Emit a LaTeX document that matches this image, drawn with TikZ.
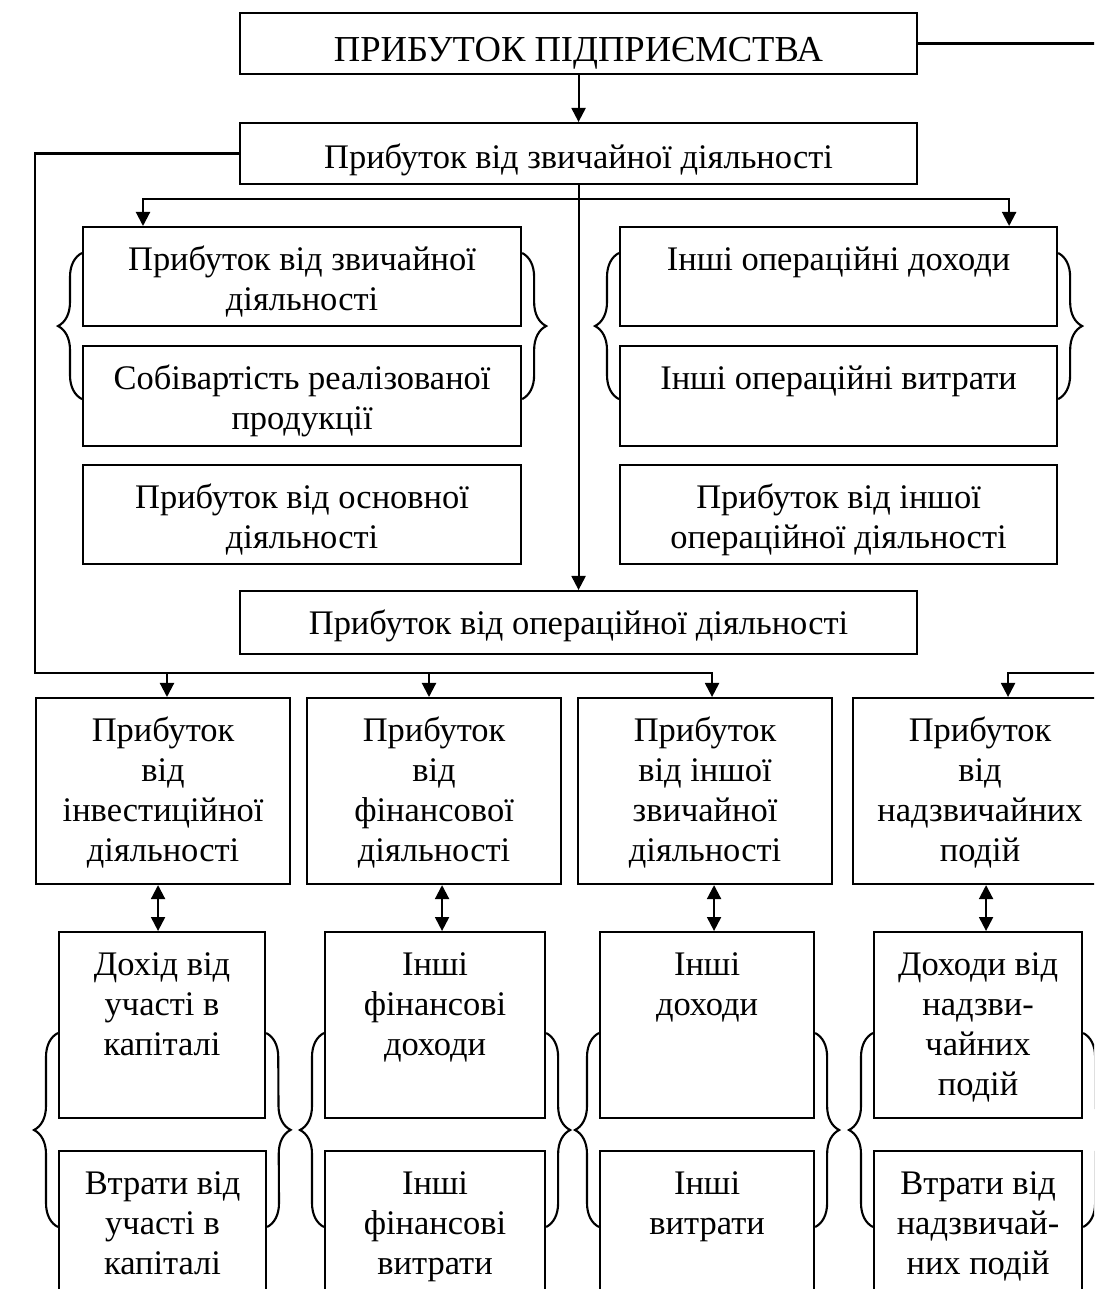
\documentclass[tikz,border=0pt]{standalone}
\usepackage{fontspec}
\setmainfont{Liberation Serif}
\usetikzlibrary{arrows.meta,calc,decorations.pathreplacing}
\newdimen\pxu \pxu=0.01cm
\newcommand{\boxtxt}[4][43]{\parbox[c][#3\pxu][t]{#2\pxu}{\centering\rule{0pt}{#1\pxu}#4}}

\begin{document}
\begin{tikzpicture}[x=0.01cm,y=-0.01cm,>={Triangle[length=1.4mm,width=1.4mm]},
                    line width=0.6pt,
                    main box/.style={draw,inner sep=0pt,anchor=north west,font=\fontsize{9.8}{11.4}\selectfont},
                    curly/.style={decorate,decoration={brace,amplitude=2.4mm}}]
  \useasboundingbox (0,0) rectangle (1094,1289);
  \clip (0,0) rectangle (1094,1289);
  \node[main box,font=\fontsize{10.4}{12}\selectfont] (1) at (239,12) {\boxtxt[48]{677}{61}{ПРИБУТОК ПІДПРИЄМСТВА}};
  \node[main box] (2) at (239,122) {\boxtxt[45]{677}{61}{Прибуток від звичайної діяльності}};
  \node[main box] (3) at (82,226) {\boxtxt{438}{99}{Прибуток від звичайної\\діяльності}};
  \node[main box] (4) at (82,345) {\boxtxt{438}{100}{Собівартість реалізованої\\продукції}};
  \node[main box] (5) at (82,464) {\boxtxt{438}{99}{Прибуток від основної\\діяльності}};
  \node[main box] (6) at (619,226) {\boxtxt{437}{99}{Інші операційні доходи}};
  \node[main box] (7) at (619,345) {\boxtxt{437}{100}{Інші операційні витрати}};
  \node[main box] (8) at (619,464) {\boxtxt{437}{99}{Прибуток від іншої\\операційної діяльності}};
  \node[main box] (9) at (239,590) {\boxtxt{677}{63}{Прибуток від операційної діяльності}};
  \node[main box] (10) at (35,697) {\boxtxt{254}{186}{Прибуток\\від\\інвестиційної\\діяльності}};
  \node[main box] (11) at (306,697) {\boxtxt{254}{186}{Прибуток\\від\\фінансової\\діяльності}};
  \node[main box] (12) at (577,697) {\boxtxt{254}{186}{Прибуток\\від іншої\\звичайної\\діяльності}};
  \node[main box] (13) at (852,697) {\boxtxt{254}{186}{Прибуток\\від\\надзвичайних\\подій}};
  \node[main box] (14) at (58,931) {\boxtxt{206}{186}{Дохід від\\участі в\\капіталі}};
  \node[main box] (15) at (324,931) {\boxtxt{220}{186}{Інші\\фінансові\\доходи}};
  \node[main box] (16) at (599,931) {\boxtxt{214}{186}{Інші\\доходи}};
  \node[main box] (17) at (873,931) {\boxtxt{208}{186}{Доходи від\\надзви-\\чайних\\подій}};
  \node[main box] (18) at (58,1150) {\boxtxt{207}{186}{Втрати від\\участі в\\капіталі}};
  \node[main box] (19) at (324,1150) {\boxtxt{220}{186}{Інші\\фінансові\\витрати}};
  \node[main box] (20) at (599,1150) {\boxtxt{214}{186}{Інші\\витрати}};
  \node[main box] (21) at (873,1150) {\boxtxt{208}{186}{Втрати від\\надзвичай-\\них подій}};
  \coordinate (fork) at ($(2.south)+(0,14)$);
  \coordinate (c1) at (167,673);
  \coordinate (c2) at (429,673);
  \path[->]
    (1) edge (2)
    (2) edge (9);
  \draw[->] (fork) -| ($(3.north west)+(61,0)$);
  \draw[->] (fork) -| ($(6.north east)+(-49,0)$);
  \draw[->] (2.west) -| (35,673) -| ($(12.north)+(7,0)$);
  \draw[->] (c1) -- (c1 |- 10.north);
  \draw[->] (c2) -- (c2 |- 11.north);
  \draw[->] (1.east) -| (1110,673) -| ($(13.north)+(28,0)$);
  \draw[<->] ($(10.south)+(-5,0)$) -- ($(14.north)+(-4,0)$);
  \draw[<->] ($(11.south)+(8,0)$) -- ($(15.north)+(7,0)$);
  \draw[<->] ($(12.south)+(9,0)$) -- ($(16.north)+(7,0)$);
  \draw[<->] ($(13.south)+(6,0)$) -- ($(17.north)+(8,0)$);
  \draw[curly] ($(4.south west)+(0,-48)$) -- ($(3.north west)+(0,27)$);
  \draw[curly] ($(3.north east)+(0,27)$) -- ($(4.south east)+(0,-48)$);
  \draw[curly] ($(7.south west)+(0,-48)$) -- ($(6.north west)+(0,27)$);
  \draw[curly] ($(6.north east)+(0,27)$) -- ($(7.south east)+(0,-48)$);
  \draw[curly] ($(18.north west)+(0,77)$) -- ($(14.north west)+(0,102)$);
  \draw[curly] ($(14.north east)+(0,102)$) -- ($(18.north east)+(0,77)$);
  \draw[curly] ($(19.north west)+(0,77)$) -- ($(15.north west)+(0,102)$);
  \draw[curly] ($(15.north east)+(0,102)$) -- ($(19.north east)+(0,77)$);
  \draw[curly] ($(20.north west)+(0,77)$) -- ($(16.north west)+(0,102)$);
  \draw[curly] ($(16.north east)+(0,102)$) -- ($(20.north east)+(0,77)$);
  \draw[curly] ($(21.north west)+(0,77)$) -- ($(17.north west)+(0,102)$);
  \draw[curly] ($(17.north east)+(0,102)$) -- ($(21.north east)+(0,77)$);
\end{tikzpicture}
\end{document}
